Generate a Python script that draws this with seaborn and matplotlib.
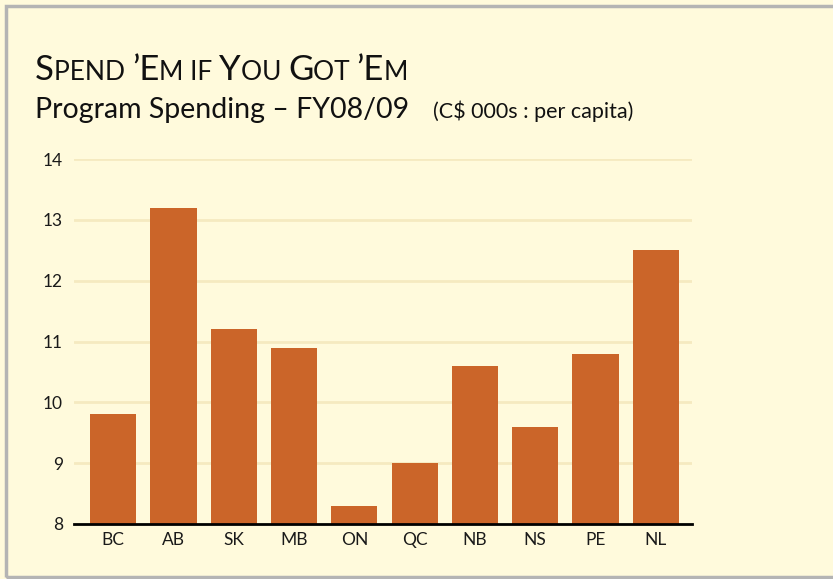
import matplotlib.pyplot as plt
import pandas as pd
import seaborn as sns
from matplotlib.patches import Rectangle

# Program spending per capita, FY08/09 (C$ 000s)
provinces = ['BC', 'AB', 'SK', 'MB', 'ON', 'QC', 'NB', 'NS', 'PE', 'NL']
spending = [9.8, 13.2, 11.2, 10.9, 8.3, 9.0, 10.6, 9.6, 10.8, 12.5]
y_ticks = [8, 9, 10, 11, 12, 13, 14]

bg = '#FFFADC'
bar_color = '#CB6529'
grid_color = '#F5EAC0'

sns.set_theme(style='white')
plt.rcParams['font.family'] = ['Lato', 'DejaVu Sans']

df = pd.DataFrame({'province': provinces, 'value': spending})

fig = plt.figure(figsize=(8.33, 5.79), dpi=100)
fig.patch.set_facecolor(bg)
ax = fig.add_axes([74 / 833, 55 / 579, 618 / 833, 365 / 579])
ax.set_facecolor(bg)

sns.barplot(data=df, x='province', y='value', color=bar_color, saturation=1,
            width=0.767, linewidth=0, ax=ax, zorder=3)

ax.set_ylim(8, 14)
ax.set_xlim(-0.65, 9.6)
ax.set_yticks(y_ticks)
for t in y_ticks[1:]:
    ax.axhline(t, color=grid_color, lw=2, zorder=1)
ax.set_xlabel('')
ax.set_ylabel('')
ax.tick_params(axis='both', length=0, labelsize=12.5, colors='#1a1a1a')
ax.tick_params(axis='y', pad=8)
ax.tick_params(axis='x', pad=6)
for s in ['top', 'right', 'left']:
    ax.spines[s].set_visible(False)
ax.spines['bottom'].set_color('black')
ax.spines['bottom'].set_linewidth(2)
ax.spines['bottom'].set_zorder(4)

# grey frame around the panel
fig.add_artist(Rectangle((6 / 833, 2 / 579), 1.05, 1 - 8 / 579, transform=fig.transFigure,
                         fill=False, edgecolor='#B4B4B4', lw=2.5))

# small-caps style title, built piece by piece
pieces = [('S', 25), ('PEND ', 19), ('\u2019E', 25), ('M IF ', 19), ('Y', 25),
          ('OU ', 19), ('G', 25), ('OT ', 19), ('\u2019E', 25), ('M', 19)]
renderer = fig.canvas.get_renderer()
x = 35 / 833
for txt, size in pieces:
    t = fig.text(x, 1 - 80 / 579, txt, fontsize=size, color='#111111',
                 va='baseline', ha='left')
    bb = t.get_window_extent(renderer=renderer)
    x += bb.width / 833

fig.text(35 / 833, 1 - 118 / 579, 'Program Spending \u2013 FY08/09', fontsize=20.5,
         color='#111111', va='baseline', ha='left')
fig.text(433 / 833, 1 - 118 / 579, '(C$ 000s : per capita)', fontsize=15.5,
         color='#111111', va='baseline', ha='left')

fig.savefig('out.png', dpi=100, facecolor=bg)
